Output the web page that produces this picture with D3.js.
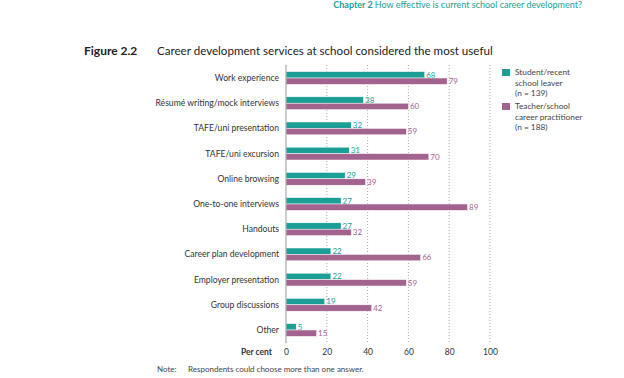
<!DOCTYPE html>
<html>
<head>
<meta charset="utf-8">
<script src="https://cdn.jsdelivr.net/npm/d3@7"></script>
<style>
body{margin:0;background:#fff;}
svg{display:block;font-family:Lato, "Open Sans", sans-serif;}
</style>
</head>
<body>
<svg id="chart" width="624" height="378"></svg>
<script>
const categories = ["Work experience","Résumé writing/mock interviews","TAFE/uni presentation","TAFE/uni excursion","Online browsing","One-to-one interviews","Handouts","Career plan development","Employer presentation","Group discussions","Other"];
const students = [68,38,32,31,29,27,27,22,22,19,5];
const teachers = [79,60,59,70,39,89,32,66,59,42,15];
const seriesNames = [["Student/recent","school leaver","(n = 139)"],["Teacher/school","career practitioner","(n = 188)"]];
const tickValues = [0,20,40,60,80,100];
const colors = ["#1b9e95","#a3638f"];

const svg = d3.select("#chart");
const x = d3.scaleLinear().domain([0,100]).range([286,490]);
const y = d3.scaleBand().domain(categories).range([65.4,342.6]);

// header
const hdr = svg.append("text").attr("x",582).attr("y",7.5).attr("text-anchor","end")
  .attr("font-size",9).attr("fill","#1b9e95");
hdr.append("tspan").attr("font-weight","bold").text("Chapter 2 ");
hdr.append("tspan").text("How effective is current school career development?");

// title
svg.append("text").attr("x",84).attr("y",55).attr("font-size",12).attr("font-weight","bold").attr("fill","#222").text("Figure 2.2");
svg.append("text").attr("x",157).attr("y",55).attr("font-size",11.6).attr("fill","#222").text("Career development services at school considered the most useful");

// gridlines
svg.append("g").selectAll("line").data(tickValues.filter(d=>d>0)).join("line")
  .attr("x1",d=>x(d)).attr("x2",d=>x(d)).attr("y1",65).attr("y2",343)
  .attr("stroke","#aaa").attr("stroke-width",1).attr("stroke-dasharray","1,2");

// axis
const axis = svg.append("g").attr("transform","translate(0,343)")
  .call(d3.axisBottom(x).tickValues(tickValues).tickSize(0).tickPadding(6));
axis.select(".domain").remove();
axis.selectAll("text").attr("font-size",8.5).attr("fill","#333").attr("font-family","Lato, sans-serif");
svg.append("text").attr("x",272).attr("y",355).attr("text-anchor","end").attr("font-size",8.5).attr("font-weight","bold").attr("fill","#333").text("Per cent");

const bh = 6.4;
const rows = svg.append("g");
categories.forEach((c,i)=>{
  const cy = y(c) + y.bandwidth()/2;
  rows.append("text").attr("x",279).attr("y",cy+3).attr("text-anchor","end").attr("font-size",8.6).attr("fill","#333").text(c);
  [students[i],teachers[i]].forEach((v,j)=>{
    const top = j===0 ? cy-bh : cy;
    rows.append("rect").attr("x",x(0)).attr("y",top).attr("width",x(v)-x(0)).attr("height",bh)
      .attr("fill",colors[j]).attr("stroke","#fff").attr("stroke-width",0.5);
    rows.append("text").attr("x",x(v)+1.5).attr("y",top+bh-0.5).attr("font-size",8).attr("fill",colors[j]).text(v);
  });
});

// axis line at 0
svg.append("line").attr("x1",x(0)).attr("x2",x(0)).attr("y1",65).attr("y2",343).attr("stroke","#999").attr("stroke-width",1);

// legend
seriesNames.forEach((lines,j)=>{
  const ty = 69 + j*34;
  svg.append("rect").attr("x",502).attr("y",ty).attr("width",8).attr("height",7).attr("fill",colors[j]);
  lines.forEach((l,k)=>{
    svg.append("text").attr("x",515).attr("y",ty+6+k*10.5).attr("font-size",8.3).attr("fill","#444").text(l);
  });
});

// note
svg.append("text").attr("x",157).attr("y",372).attr("font-size",8).attr("fill","#444").text("Note:");
svg.append("text").attr("x",188).attr("y",372).attr("font-size",8).attr("fill","#444").text("Respondents could choose more than one answer.");
</script>
</body>
</html>
